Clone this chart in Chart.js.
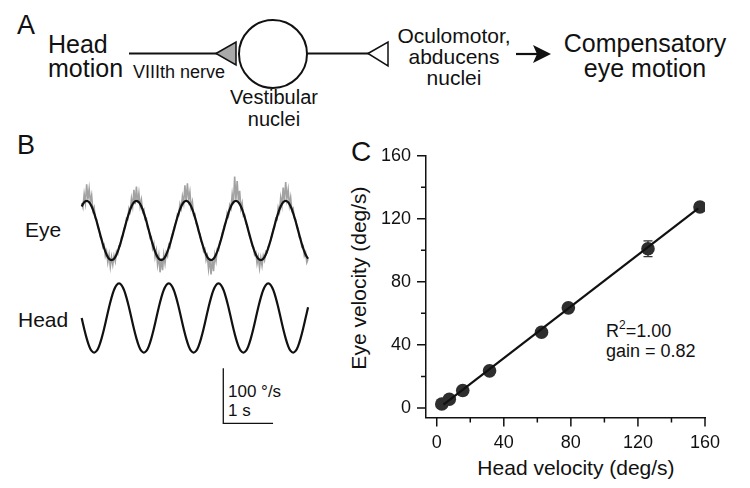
<!DOCTYPE html>
<html><head><meta charset="utf-8">
<script src="https://cdn.jsdelivr.net/npm/chart.js@4/dist/chart.umd.min.js"></script>
<style>
html,body{margin:0;padding:0;background:#fff;}
body{width:750px;height:488px;position:relative;overflow:hidden;font-family:"Liberation Sans",Arial,Helvetica,sans-serif;color:#111;}
.t{position:absolute;white-space:nowrap;}
canvas{position:absolute;}
</style></head><body>
<svg width="750" height="140" style="position:absolute;left:0;top:0">
  <line x1="129" y1="53.5" x2="217" y2="53.5" stroke="#111" stroke-width="2"/>
  <polygon points="216,53.5 236,42 236,65" fill="#a9a9a9" stroke="#111" stroke-width="1.5"/>
  <circle cx="273" cy="54" r="34" fill="none" stroke="#111" stroke-width="2"/>
  <line x1="307" y1="53.5" x2="369" y2="53.5" stroke="#111" stroke-width="2"/>
  <polygon points="368,53.5 388,42 388,66" fill="#fff" stroke="#111" stroke-width="1.5"/>
  <line x1="516" y1="54" x2="540" y2="54" stroke="#111" stroke-width="2.2"/>
  <polygon points="551,54 533,45 537,54 533,63" fill="#111"/>
</svg>
<div class="t" style="left:17px;top:12px;font-size:27px;line-height:27px">A</div>
<div class="t" style="left:48px;top:31.8px;font-size:25px;line-height:24px">Head<br>motion</div>
<div class="t" style="left:133px;top:62.8px;font-size:18px;line-height:18px">VIIIth nerve</div>
<div class="t" style="left:174px;width:200px;text-align:center;top:86px;font-size:20px;line-height:22px">Vestibular<br>nuclei</div>
<div class="t" style="left:354px;width:200px;text-align:center;top:25.2px;font-size:21px;line-height:21px">Oculomotor,<br>abducens<br>nuclei</div>
<div class="t" style="left:545px;width:200px;text-align:center;top:30.8px;font-size:25px;line-height:25px">Compensatory<br>eye motion</div>

<div class="t" style="left:17px;top:132px;font-size:27px;line-height:27px">B</div>
<div class="t" style="left:25px;top:219.2px;font-size:21px;line-height:21px">Eye</div>
<div class="t" style="left:18px;top:309.2px;font-size:21px;line-height:21px">Head</div>
<div class="t" style="left:228px;top:381.6px;font-size:17px;line-height:19px">100 °/s<br>1 s</div>

<div class="t" style="left:351px;top:138.3px;font-size:28px;line-height:28px">C</div>
<div class="t" style="left:259.4px;width:200px;text-align:center;top:265.5px;font-size:21px;line-height:24px;transform:rotate(-90deg);transform-origin:50% 50%">Eye velocity (deg/s)</div>
<div class="t" style="left:476px;width:200px;text-align:center;top:455.7px;font-size:21px;line-height:24px">Head velocity (deg/s)</div>
<div class="t" style="left:606px;top:321.8px;font-size:18px;line-height:18px">R<span style="font-size:12px;position:relative;top:-8px">2</span>=1.00</div>
<div class="t" style="left:606px;top:341.8px;font-size:18px;line-height:18px">gain = 0.82</div>

<canvas id="cb" width="250" height="260" style="left:70px;top:170px"></canvas>
<canvas id="cc" width="410" height="358" style="left:340px;top:130px"></canvas>
<script>
// ---------- Panel B data (time in s, velocity in deg/s) ----------
const sampleTime = [0,0.05,0.1,0.15,0.2,0.25,0.3,0.35,0.4,0.45,0.5,0.55,0.6,0.65,0.7,0.75,0.8,0.85,0.9,0.95,1,1.05,1.1,1.15,1.2,1.25,1.3,1.35,1.4,1.45,1.5,1.55,1.6,1.65,1.7,1.75,1.8,1.85,1.9,1.95,2,2.05,2.1,2.15,2.2,2.25,2.3,2.35,2.4,2.45,2.5,2.55,2.6,2.65,2.7,2.75,2.8,2.85,2.9,2.95,3,3.05,3.1,3.15,3.2,3.25,3.3,3.35,3.4,3.45,3.5,3.55,3.6,3.65,3.7,3.75,3.8,3.85,3.9,3.95,4,4.05,4.1,4.15,4.2,4.25,4.3,4.35,4.4,4.45,4.5,4.55];
const eyeFit = [43.7,51.4,
 54,51.4,43.7,31.7,16.7,0,-16.7,-31.7,-43.7,-51.4,-54,-51.4,-43.7,-31.7,-16.7,0,16.7,31.7,43.7,51.4,
 54,51.4,43.7,31.7,16.7,0,-16.7,-31.7,-43.7,-51.4,-54,-51.4,-43.7,-31.7,-16.7,0,16.7,31.7,43.7,51.4,
 54,51.4,43.7,31.7,16.7,0,-16.7,-31.7,-43.7,-51.4,-54,-51.4,-43.7,-31.7,-16.7,0,16.7,31.7,43.7,51.4,
 54,51.4,43.7,31.7,16.7,0,-16.7,-31.7,-43.7,-51.4,-54,-51.4,-43.7,-31.7,-16.7,0,16.7,31.7,43.7,51.4,
 54,51.4,43.7,31.7,16.7,0,-16.7,-31.7,-43.7,-51.4];
const headVel = [0,-19.5,-37,-51,-59.9,
 -63,-59.9,-51,-37,-19.5,0,19.5,37,51,59.9,63,59.9,51,37,19.5,0,-19.5,-37,-51,-59.9,
 -63,-59.9,-51,-37,-19.5,0,19.5,37,51,59.9,63,59.9,51,37,19.5,0,-19.5,-37,-51,-59.9,
 -63,-59.9,-51,-37,-19.5,0,19.5,37,51,59.9,63,59.9,51,37,19.5,0,-19.5,-37,-51,-59.9,
 -63,-59.9,-51,-37,-19.5,0,19.5,37,51,59.9,63,59.9,51,37,19.5,0,-19.5,-37,-51,-59.9,
 -63,-59.9,-51,-37,-19.5,0,19.5];
// raw (unfiltered) eye velocity, sampled more densely
const rawTime = [0,0.025,0.05,0.075,0.1,0.125,0.15,0.175,0.2,0.225,0.25,0.275,0.3,0.325,0.35,0.375,0.4,0.425,0.45,0.475,
 0.5,0.525,0.55,0.575,0.6,0.625,0.65,0.675,0.7,0.725,0.75,0.775,0.8,0.825,0.85,0.875,0.9,0.925,0.95,0.975,
 1,1.025,1.05,1.075,1.1,1.125,1.15,1.175,1.2,1.225,1.25,1.275,1.3,1.325,1.35,1.375,1.4,1.425,1.45,1.475,
 1.5,1.525,1.55,1.575,1.6,1.625,1.65,1.675,1.7,1.725,1.75,1.775,1.8,1.825,1.85,1.875,1.9,1.925,1.95,1.975,
 2,2.025,2.05,2.075,2.1,2.125,2.15,2.175,2.2,2.225,2.25,2.275,2.3,2.325,2.35,2.375,2.4,2.425,2.45,2.475,
 2.5,2.525,2.55,2.575,2.6,2.625,2.65,2.675,2.7,2.725,2.75,2.775,2.8,2.825,2.85,2.875,2.9,2.925,2.95,2.975,
 3,3.025,3.05,3.075,3.1,3.125,3.15,3.175,3.2,3.225,3.25,3.275,3.3,3.325,3.35,3.375,3.4,3.425,3.45,3.475,
 3.5,3.525,3.55,3.575,3.6,3.625,3.65,3.675,3.7,3.725,3.75,3.775,3.8,3.825,3.85,3.875,3.9,3.925,3.95,3.975,
 4,4.025,4.05,4.075,4.1,4.125,4.15,4.175,4.2,4.225,4.25,4.275,4.3,4.325,4.35,4.375,4.4,4.425,4.45,4.475,
 4.5,4.525,4.55];
const eyeRaw = [50,42,66,50,84,56,76,52,64,36,42,22,20,6,3,-12,-14,-30,-26,-46,
 -38,-58,-44,-66,-48,-62,-46,-56,-38,-42,-28,-28,-12,-10,4,6,22,20,40,34,
 58,44,74,48,80,50,68,44,56,34,38,20,22,4,2,-14,-12,-32,-24,-48,
 -36,-62,-46,-76,-50,-72,-44,-60,-40,-46,-26,-30,-14,-6,2,10,14,30,28,48,
 40,62,50,82,52,86,56,70,42,52,28,30,12,10,-3,-6,-20,-22,-38,-34,
 -54,-46,-70,-50,-80,-52,-74,-44,-56,-34,-36,-20,-18,-4,2,12,14,32,26,46,
 40,66,48,98,56,90,54,72,40,50,26,28,12,10,-2,-10,-16,-28,-30,-44,
 -40,-60,-48,-68,-50,-64,-46,-54,-38,-40,-30,-24,-18,-8,3,6,22,20,42,34,
 60,46,78,52,88,58,74,46,60,36,40,22,20,6,4,-12,-14,-30,-28,-46,
 -40,-58,-52];
const scaleBarVelocity = 100; // deg/s
const scaleBarTime = 1;       // s

// ---------- Panel C data ----------
const headVelocity = [3, 7.5, 15.5, 31.5, 62.5, 78.5, 126, 157];
const eyeVelocity  = [2.5, 5.5, 11, 23.5, 48, 63.5, 101, 127.5];
const eyeVelocityErr = [0, 0, 0, 0, 0, 0, 5, 0];
const fitHead = [4, 156];
const fitEye  = [2.1, 126.7];
const axisTickValues = [0, 20, 40, 60, 80, 100, 120, 140, 160];
const axisTickLabels = ['0', '', '40', '', '80', '', '120', '', '160'];

const FONT = '"Liberation Sans", Arial, Helvetica, sans-serif';
const INK = '#111';

// ---------- Chart B ----------
const pts = (xs, ys) => xs.map((x, i) => ({x, y: ys[i]}));
const scaleBarPlugin = {
  id: 'scaleBar',
  afterDraw(chart) {
    const {ctx, scales: {x, yHead}} = chart;
    const t0 = 2.846, v0 = -191.4;
    const px0 = x.getPixelForValue(t0), py0 = yHead.getPixelForValue(v0);
    const py1 = yHead.getPixelForValue(v0 + scaleBarVelocity);
    const px1 = x.getPixelForValue(t0 + scaleBarTime);
    ctx.save();
    ctx.strokeStyle = INK; ctx.lineWidth = 1.3;
    ctx.beginPath();
    ctx.moveTo(px0, py1); ctx.lineTo(px0, py0); ctx.lineTo(px1, py0);
    ctx.stroke();
    ctx.restore();
  }
};
new Chart(document.getElementById('cb'), {
  type: 'line',
  data: {
    datasets: [
      {data: pts(sampleTime, eyeFit), yAxisID: 'yEye', borderColor: INK, borderWidth: 2.2, pointRadius: 0, tension: 0.4, order: 0},
      {data: pts(sampleTime, headVel), yAxisID: 'yHead', borderColor: INK, borderWidth: 2.2, pointRadius: 0, tension: 0.4, order: 0},
      {data: pts(rawTime, eyeRaw), yAxisID: 'yEye', borderColor: '#a2a2a2', borderWidth: 1.6, pointRadius: 0, tension: 0, order: 1}
    ]
  },
  options: {
    responsive: false, animation: false, devicePixelRatio: 1,
    layout: {padding: 0},
    plugins: {legend: {display: false}, tooltip: {enabled: false}},
    scales: {
      x: {type: 'linear', display: false, min: -0.235, max: 4.79},
      yEye: {type: 'linear', display: false, min: -362.7, max: 110},
      yHead: {type: 'linear', display: false, min: -203.6, max: 269.1}
    }
  },
  plugins: [scaleBarPlugin]
});

// ---------- Chart C ----------
const tickPlugin = {
  id: 'ticksAndErrors',
  beforeDatasetsDraw(chart) {
    const {ctx, scales: {x, y}} = chart;
    ctx.save();
    ctx.strokeStyle = '#333'; ctx.lineWidth = 1.3;
    eyeVelocityErr.forEach((e, i) => {
      if (!e) return;
      const px = x.getPixelForValue(headVelocity[i]);
      const pt = y.getPixelForValue(eyeVelocity[i] + e);
      const pb = y.getPixelForValue(eyeVelocity[i] - e);
      ctx.beginPath();
      ctx.moveTo(px, pt); ctx.lineTo(px, pb);
      ctx.moveTo(px - 4.5, pt); ctx.lineTo(px + 4.5, pt);
      ctx.moveTo(px - 4.5, pb); ctx.lineTo(px + 4.5, pb);
      ctx.stroke();
    });
    ctx.restore();
  },
  afterDraw(chart) {
    const {ctx, chartArea: a, scales: {x, y}} = chart;
    ctx.save();
    ctx.strokeStyle = INK; ctx.lineWidth = 1.5;
    axisTickValues.forEach((v, i) => {
      const len = axisTickLabels[i] !== '' ? 9 : 5;
      const px = x.getPixelForValue(v);
      const py = y.getPixelForValue(v);
      ctx.beginPath();
      ctx.moveTo(px, a.bottom); ctx.lineTo(px, a.bottom + len);
      ctx.moveTo(a.left, py); ctx.lineTo(a.left - len, py);
      ctx.stroke();
    });
    ctx.restore();
  }
};
const tickLabel = (v) => { const i = axisTickValues.indexOf(v); return i >= 0 ? axisTickLabels[i] : ''; };
new Chart(document.getElementById('cc'), {
  type: 'scatter',
  data: {
    datasets: [
      {type: 'line', data: pts(fitHead, fitEye), borderColor: INK, borderWidth: 2.2, pointRadius: 0, order: 0},
      {data: pts(headVelocity, eyeVelocity), backgroundColor: '#2e2e2e', borderWidth: 0, pointRadius: 6.8, order: 1}
    ]
  },
  options: {
    responsive: false, animation: false, devicePixelRatio: 1,
    layout: {padding: {top: 21.7, right: 45, bottom: 0, left: 0}},
    plugins: {legend: {display: false}, tooltip: {enabled: false}},
    scales: {
      x: {
        type: 'linear', min: -6.4, max: 160,
        afterBuildTicks: s => { s.ticks = axisTickValues.map(v => ({value: v})); },
        afterFit: s => { s.height = 70.5; },
        ticks: {callback: tickLabel, font: {size: 18, family: FONT}, color: INK, padding: 15, maxRotation: 0, autoSkip: false},
        grid: {display: false, drawTicks: false},
        border: {display: true, color: INK, width: 1.5}
      },
      y: {
        type: 'linear', min: -6.1, max: 160,
        afterBuildTicks: s => { s.ticks = axisTickValues.map(v => ({value: v})); },
        afterFit: s => { s.width = 86; },
        ticks: {callback: tickLabel, font: {size: 18, family: FONT}, color: INK, padding: 15, autoSkip: false},
        grid: {display: false, drawTicks: false},
        border: {display: true, color: INK, width: 1.5}
      }
    }
  },
  plugins: [tickPlugin]
});
</script>
</body></html>
